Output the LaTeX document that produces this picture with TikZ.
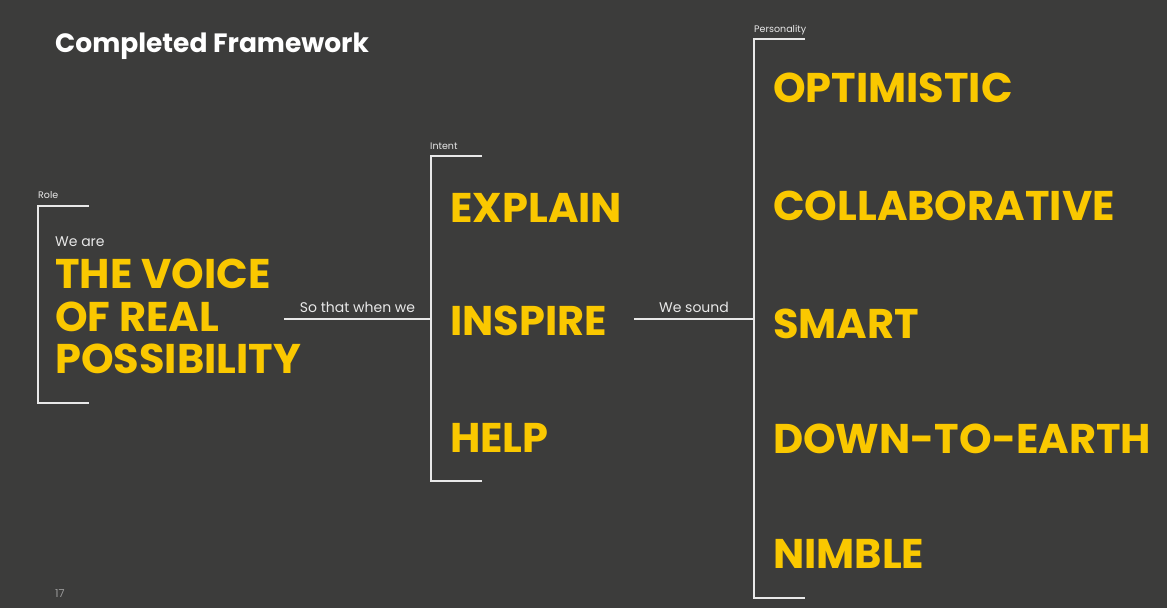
\documentclass[tikz,border=0pt]{standalone}
\usepackage{fontspec}
\setmainfont{Poppins}
\usetikzlibrary{positioning}
\definecolor{bgdark}{HTML}{3C3C3B}
\definecolor{voiceyellow}{HTML}{FAC800}
\definecolor{rulegray}{HTML}{E8E8E8}
\definecolor{pagegray}{HTML}{9A9A9A}

\begin{document}
\begin{tikzpicture}[x=1pt, y=-1pt,
    bigword/.style={anchor=base west, inner sep=0pt, text=voiceyellow, font=\fontsize{41.5}{42}\selectfont\bfseries},
    tag/.style={anchor=base west, inner sep=0pt, text=rulegray, font=\fontsize{9.5}{10}\selectfont},
    lead/.style={anchor=base west, inner sep=0pt, text=rulegray, font=\fontsize{14}{15}\selectfont},
    rule/.style={draw=rulegray, line width=1.6pt}]
    \fill[bgdark] (0,0) rectangle (1167,608);
    \useasboundingbox (0,0) rectangle (1167,608);

    % Title and page number
    \node[anchor=base west, inner sep=0pt, text=white, font=\fontsize{26.5}{27}\selectfont\bfseries] (title) at (55,52) {Completed Framework};
    \node[anchor=base west, inner sep=0pt, text=pagegray, font=\fontsize{11}{11}\selectfont] (page) at (55,597) {17};

    % Role
    \coordinate (roletop) at (38,206);
    \coordinate (rolebot) at (38,403);
    \draw[rule] ([xshift=51pt]roletop) -- (roletop) -- (rolebot) -- ([xshift=51pt]rolebot);
    \node[tag] (rolelabel) at (38,198) {Role};
    \node[lead] (weare) at (55,246) {We are};
    \node[bigword] (voice1) at (55,288) {THE VOICE};
    \node[bigword] (voice2) at (55,331) {OF REAL};
    \node[bigword] (voice3) at (55,373) {POSSIBILITY};

    % Intent
    \coordinate (intenttop) at (431,156);
    \coordinate (intentbot) at (431,481);
    \coordinate (intentmid) at (431,319);
    \draw[rule] ([xshift=51pt]intenttop) -- (intenttop) -- (intentbot) -- ([xshift=51pt]intentbot);
    \node[tag] (intentlabel) at (430,149) {Intent};
    \node[bigword] (explain) at (450,222) {EXPLAIN};
    \node[bigword] (inspire) at (450,335) {INSPIRE};
    \node[bigword] (help) at (450,452) {HELP};

    % Personality
    \coordinate (perstop) at (754,39);
    \coordinate (persbot) at (754,598);
    \coordinate (persmid) at (754,319);
    \draw[rule] ([xshift=51pt]perstop) -- (perstop) -- (persbot) -- ([xshift=51pt]persbot);
    \node[tag] (perslabel) at (754,32) {Personality};
    \node[bigword] (optimistic) at (773,102) {OPTIMISTIC};
    \node[bigword] (collab) at (773,220) {COLLABORATIVE};
    \node[bigword] (smart) at (773,338) {SMART};
    \node[bigword] (earth) at (773,453) {DOWN-TO-EARTH};
    \node[bigword] (nimble) at (773,568) {NIMBLE};

    % Links between columns
    \coordinate (roleout) at (284,319);
    \coordinate (intentout) at (634,319);
    \draw[rule] (roleout) -- node[lead, anchor=base, above=6pt] (sothat) {So that when we} (intentmid);
    \draw[rule] (intentout) -- node[lead, anchor=base, above=6pt] (wesound) {We sound} (persmid);
\end{tikzpicture}
\end{document}
